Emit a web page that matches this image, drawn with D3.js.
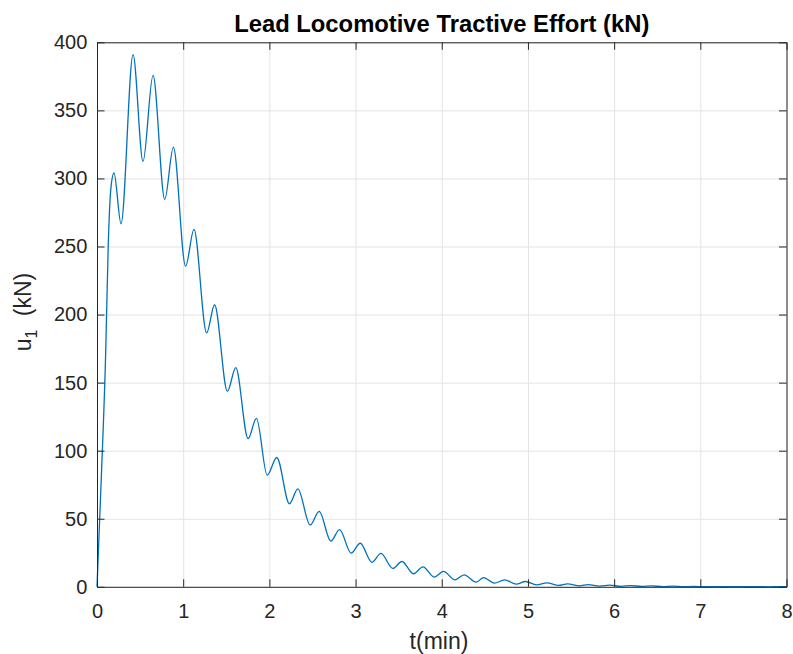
<!DOCTYPE html>
<html><head><meta charset="utf-8">
<script src="https://cdn.jsdelivr.net/npm/d3@7"></script>
<style>body{margin:0;background:#fff}svg{display:block}</style>
</head><body><svg id="c" width="793" height="654"></svg>
<script>
// time in minutes (extrema and points on the rise)
const timeMin = [0, 0.05, 0.1, 0.13, 0.16, 0.197, 0.279, 0.418, 0.534, 0.650, 0.786, 0.886,
  1.028, 1.125, 1.272, 1.364, 1.513, 1.61, 1.753, 1.85, 1.975, 2.086, 2.233, 2.33,
  2.473, 2.578, 2.713, 2.814, 2.949, 3.054, 3.19, 3.294, 3.433, 3.537, 3.673, 3.782,
  3.913, 4.02, 4.153, 4.26, 4.40, 4.486, 4.61, 4.73, 4.865, 4.97, 5.10, 5.22, 5.356,
  5.46, 5.60, 5.70, 5.83, 5.95, 6.08, 6.19, 6.32, 6.43, 6.57, 6.68, 6.81, 6.92, 7.05,
  7.17, 7.3, 7.41, 7.55, 7.66, 7.8, 7.9, 8.0];
// lead locomotive tractive effort u1 (kN)
const tractiveKN = [0, 80, 170, 250, 292, 304, 266.7, 391, 312.5, 375.7, 284.6, 323,
  235.5, 262.5, 186.5, 207.2, 143.6, 161, 108.8, 123.8, 82, 95, 61, 72,
  45.4, 55.4, 33.6, 42, 24.8, 32, 18, 24.5, 13.5, 18.6, 9.6, 14.7,
  7.1, 11.3, 5.1, 8.8, 3.4, 6.8, 2.7, 5.1, 2.0, 3.9, 1.4, 2.9, 1.0,
  2.2, 0.7, 1.6, 0.5, 1.2, 0.35, 0.9, 0.25, 0.65, 0.15, 0.45, 0.1, 0.3, 0.05,
  0.2, 0.03, 0.12, 0.02, 0.08, 0.01, 0.05, 0.02];
const xTicks = [0, 1, 2, 3, 4, 5, 6, 7, 8];
const yTicks = [0, 50, 100, 150, 200, 250, 300, 350, 400];
const titleText = "Lead Locomotive Tractive Effort (kN)";
const xLabelText = "t(min)";

const W = 793, H = 654;
const m = {left: 97, right: 6.5, top: 42.3, bottom: 67.2};
const iw = W - m.left - m.right, ih = H - m.top - m.bottom;
const svg = d3.select("#c");
const font = "'Liberation Sans', Arial, Helvetica, sans-serif";
const axisCol = "#262626";

const x = d3.scaleLinear().domain([0, 8]).range([m.left, m.left + iw]);
const y = d3.scaleLinear().domain([0, 400]).range([m.top + ih, m.top]);

const g = svg.append("g");
// grid
g.append("g").attr("transform", `translate(0,${m.top + ih})`)
  .call(d3.axisBottom(x).tickValues(xTicks).tickSize(-ih).tickFormat(""))
  .call(s => { s.select(".domain").remove(); s.selectAll("line").attr("stroke", "#e3e3e3").attr("stroke-width", 1); });
g.append("g").attr("transform", `translate(${m.left},0)`)
  .call(d3.axisLeft(y).tickValues(yTicks).tickSize(-iw).tickFormat(""))
  .call(s => { s.select(".domain").remove(); s.selectAll("line").attr("stroke", "#e3e3e3").attr("stroke-width", 1); });

// line
const data = timeMin.map((t, i) => ({t, u: tractiveKN[i]}));
g.append("path").datum(data)
  .attr("fill", "none").attr("stroke", "#0072BD").attr("stroke-width", 1.3)
  .attr("stroke-linejoin", "round")
  .attr("d", d3.line().x(d => x(d.t)).y(d => y(d.u)).curve(d3.curveMonotoneX));

// axes (ticks inside, all four sides)
const tl = 7.5;
function styleAxis(s) {
  s.select(".domain").attr("stroke", axisCol).attr("stroke-width", 1);
  s.selectAll(".tick line").attr("stroke", axisCol).attr("stroke-width", 1);
  s.selectAll("text").attr("fill", axisCol).attr("font-family", font).attr("font-size", 20);
}
g.append("g").attr("transform", `translate(0,${m.top + ih})`)
  .call(d3.axisBottom(x).tickValues(xTicks).tickSizeInner(-tl).tickSizeOuter(0).tickPadding(17).tickFormat(d3.format("d")))
  .call(styleAxis);
g.append("g").attr("transform", `translate(0,${m.top})`)
  .call(d3.axisTop(x).tickValues(xTicks).tickSizeInner(-tl).tickSizeOuter(0).tickFormat(""))
  .call(styleAxis);
g.append("g").attr("transform", `translate(${m.left},0)`)
  .call(d3.axisLeft(y).tickValues(yTicks).tickSizeInner(-tl).tickSizeOuter(0).tickPadding(9.7).tickFormat(d3.format("d")))
  .call(styleAxis);
g.append("g").attr("transform", `translate(${m.left + iw},0)`)
  .call(d3.axisRight(y).tickValues(yTicks).tickSizeInner(-tl).tickSizeOuter(0).tickFormat(""))
  .call(styleAxis);

// title
svg.append("text").attr("x", m.left + iw / 2).attr("y", 31.7)
  .attr("text-anchor", "middle").attr("font-family", font).attr("font-weight", "bold")
  .attr("font-size", 23.8).attr("fill", "#000").text(titleText);
// x label
svg.append("text").attr("x", 439).attr("y", 648.5)
  .attr("text-anchor", "middle").attr("font-family", font)
  .attr("font-size", 23).attr("fill", axisCol).text(xLabelText);
// y label with subscript
const yl = svg.append("text").attr("transform", `translate(30.5,312) rotate(-90)`)
  .attr("text-anchor", "middle").attr("font-family", font)
  .attr("font-size", 23).attr("fill", axisCol);
yl.append("tspan").text("u");
yl.append("tspan").attr("font-size", 16).attr("dy", 6.5).text("1");
yl.append("tspan").attr("dy", -6.5).attr("dx", 7).text(" (kN)");
</script>
</body></html>
